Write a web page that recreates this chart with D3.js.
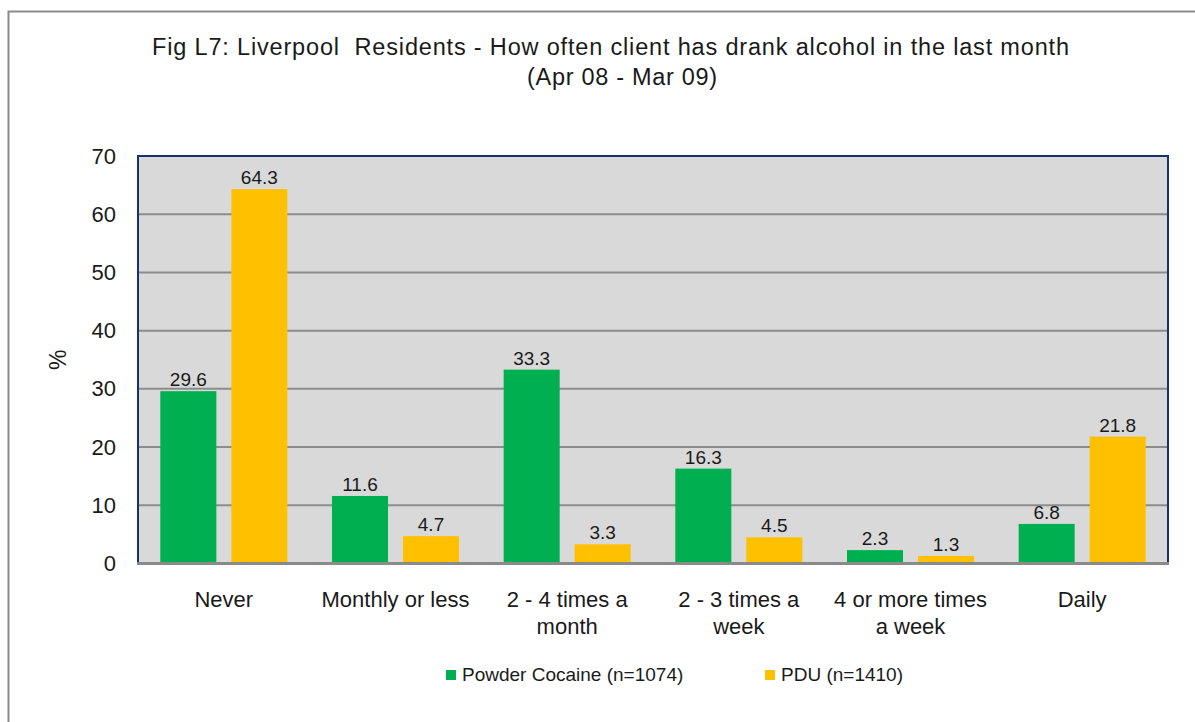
<!DOCTYPE html>
<html>
<head>
<meta charset="utf-8">
<script src="https://cdn.jsdelivr.net/npm/d3@7"></script>
<style>
  html, body { margin: 0; padding: 0; background: #fff; }
  svg { display: block; }
  text { font-family: "Liberation Sans", Arial, sans-serif; fill: #1a1a1a; }
</style>
</head>
<body>
<svg id="chart" width="1195" height="722"></svg>
<script>
const categories = [
  ["Never"],
  ["Monthly or less"],
  ["2 - 4 times a", "month"],
  ["2 - 3 times a", "week"],
  ["4 or more times", "a week"],
  ["Daily"]
];
const seriesNames = ["Powder Cocaine (n=1074)", "PDU (n=1410)"];
const powderCocaine = [29.6, 11.6, 33.3, 16.3, 2.3, 6.8];
const pdu = [64.3, 4.7, 3.3, 4.5, 1.3, 21.8];
const yTicks = [0, 10, 20, 30, 40, 50, 60, 70];
const titleLines = [
  "Fig L7: Liverpool  Residents - How often client has drank alcohol in the last month",
  "(Apr 08 - Mar 09)"
];
const colors = ["#00b050", "#ffc000"];

const svg = d3.select("#chart");

// outer frame
svg.append("rect")
  .attr("x", 8.5).attr("y", 11.5)
  .attr("width", 1300).attr("height", 800)
  .attr("fill", "none").attr("stroke", "#8a8a8a").attr("stroke-width", 2);

const plot = { left: 138, right: 1168, top: 156, bottom: 563.5 };

const y = d3.scaleLinear().domain([0, 70]).range([plot.bottom, plot.top]);
const catIdx = d3.range(categories.length);
const x0 = d3.scaleBand().domain(catIdx).range([plot.left, plot.right])
  .paddingInner(0.26).paddingOuter(0.13);
const x1 = d3.scaleBand().domain([0, 1]).range([0, x0.bandwidth()])
  .paddingInner(0.211).paddingOuter(0);

// plot background
svg.append("rect")
  .attr("x", plot.left).attr("y", plot.top)
  .attr("width", plot.right - plot.left).attr("height", plot.bottom - plot.top)
  .attr("fill", "#d9d9d9");

// gridlines
svg.append("g").selectAll("line")
  .data(yTicks.filter(t => t > 0 && t < 70))
  .join("line")
  .attr("x1", plot.left).attr("x2", plot.right)
  .attr("y1", d => y(d)).attr("y2", d => y(d))
  .attr("stroke", "#8c8c8c").attr("stroke-width", 2);

// bars
const data = catIdx.map(i => [powderCocaine[i], pdu[i]]);
const groups = svg.append("g").selectAll("g")
  .data(data).join("g")
  .attr("transform", (d, i) => `translate(${x0(i)},0)`);

groups.selectAll("rect")
  .data(d => d.map((v, s) => ({ v, s })))
  .join("rect")
  .attr("x", d => x1(d.s))
  .attr("width", x1.bandwidth())
  .attr("y", d => y(d.v))
  .attr("height", d => y(0) - y(d.v))
  .attr("fill", d => colors[d.s]);

groups.selectAll("text")
  .data(d => d.map((v, s) => ({ v, s })))
  .join("text")
  .attr("x", d => x1(d.s) + x1.bandwidth() / 2)
  .attr("y", d => y(d.v) - 5)
  .attr("text-anchor", "middle")
  .style("font-size", "19px")
  .text(d => d.v.toFixed(1));

// plot border (top, left, right in navy)
svg.append("path")
  .attr("d", `M${plot.left},${plot.bottom} V${plot.top} H${plot.right} V${plot.bottom}`)
  .attr("fill", "none").attr("stroke", "#17306e").attr("stroke-width", 2);

// x axis line
svg.append("line")
  .attr("x1", plot.left - 1).attr("x2", plot.right + 1)
  .attr("y1", plot.bottom).attr("y2", plot.bottom)
  .attr("stroke", "#8a8a8a").attr("stroke-width", 3);

// y axis tick labels
const yAxis = d3.axisLeft(y).tickValues(yTicks).tickSize(0).tickPadding(22);
const yg = svg.append("g").attr("transform", `translate(${plot.left},0)`).call(yAxis);
yg.select(".domain").remove();
yg.selectAll("text")
  .style("font-size", "22px")
  .style("font-family", '"Liberation Sans", Arial, sans-serif')
  .attr("fill", "#1a1a1a");

// y axis title
svg.append("text")
  .attr("transform", `translate(66,${(plot.top + plot.bottom) / 2}) rotate(-90)`)
  .attr("text-anchor", "middle")
  .style("font-size", "23px")
  .text("%");

// category labels
const catG = svg.append("g");
categories.forEach((lines, i) => {
  const cx = x0(i) + x0.bandwidth() / 2;
  lines.forEach((ln, j) => {
    catG.append("text")
      .attr("x", cx).attr("y", 606.5 + j * 27)
      .attr("text-anchor", "middle")
      .style("font-size", "22px")
      .text(ln);
  });
});

// title
const titleSpec = [{ cx: 610.5, w: 917 }, { cx: 622, w: 190 }];
titleLines.forEach((t, j) => {
  svg.append("text")
    .attr("x", titleSpec[j].cx).attr("y", 55 + j * 29.5)
    .attr("text-anchor", "middle")
    .attr("textLength", titleSpec[j].w)
    .attr("lengthAdjust", "spacing")
    .style("white-space", "pre")
    .style("font-size", "23.5px")
    .text(t);
});

// legend
const legendX = [446, 765];
seriesNames.forEach((name, s) => {
  svg.append("rect")
    .attr("x", legendX[s]).attr("y", 670)
    .attr("width", 10).attr("height", 10)
    .attr("fill", colors[s]);
  svg.append("text")
    .attr("x", legendX[s] + 16).attr("y", 681)
    .style("font-size", "19px")
    .text(name);
});
</script>
</body>
</html>
